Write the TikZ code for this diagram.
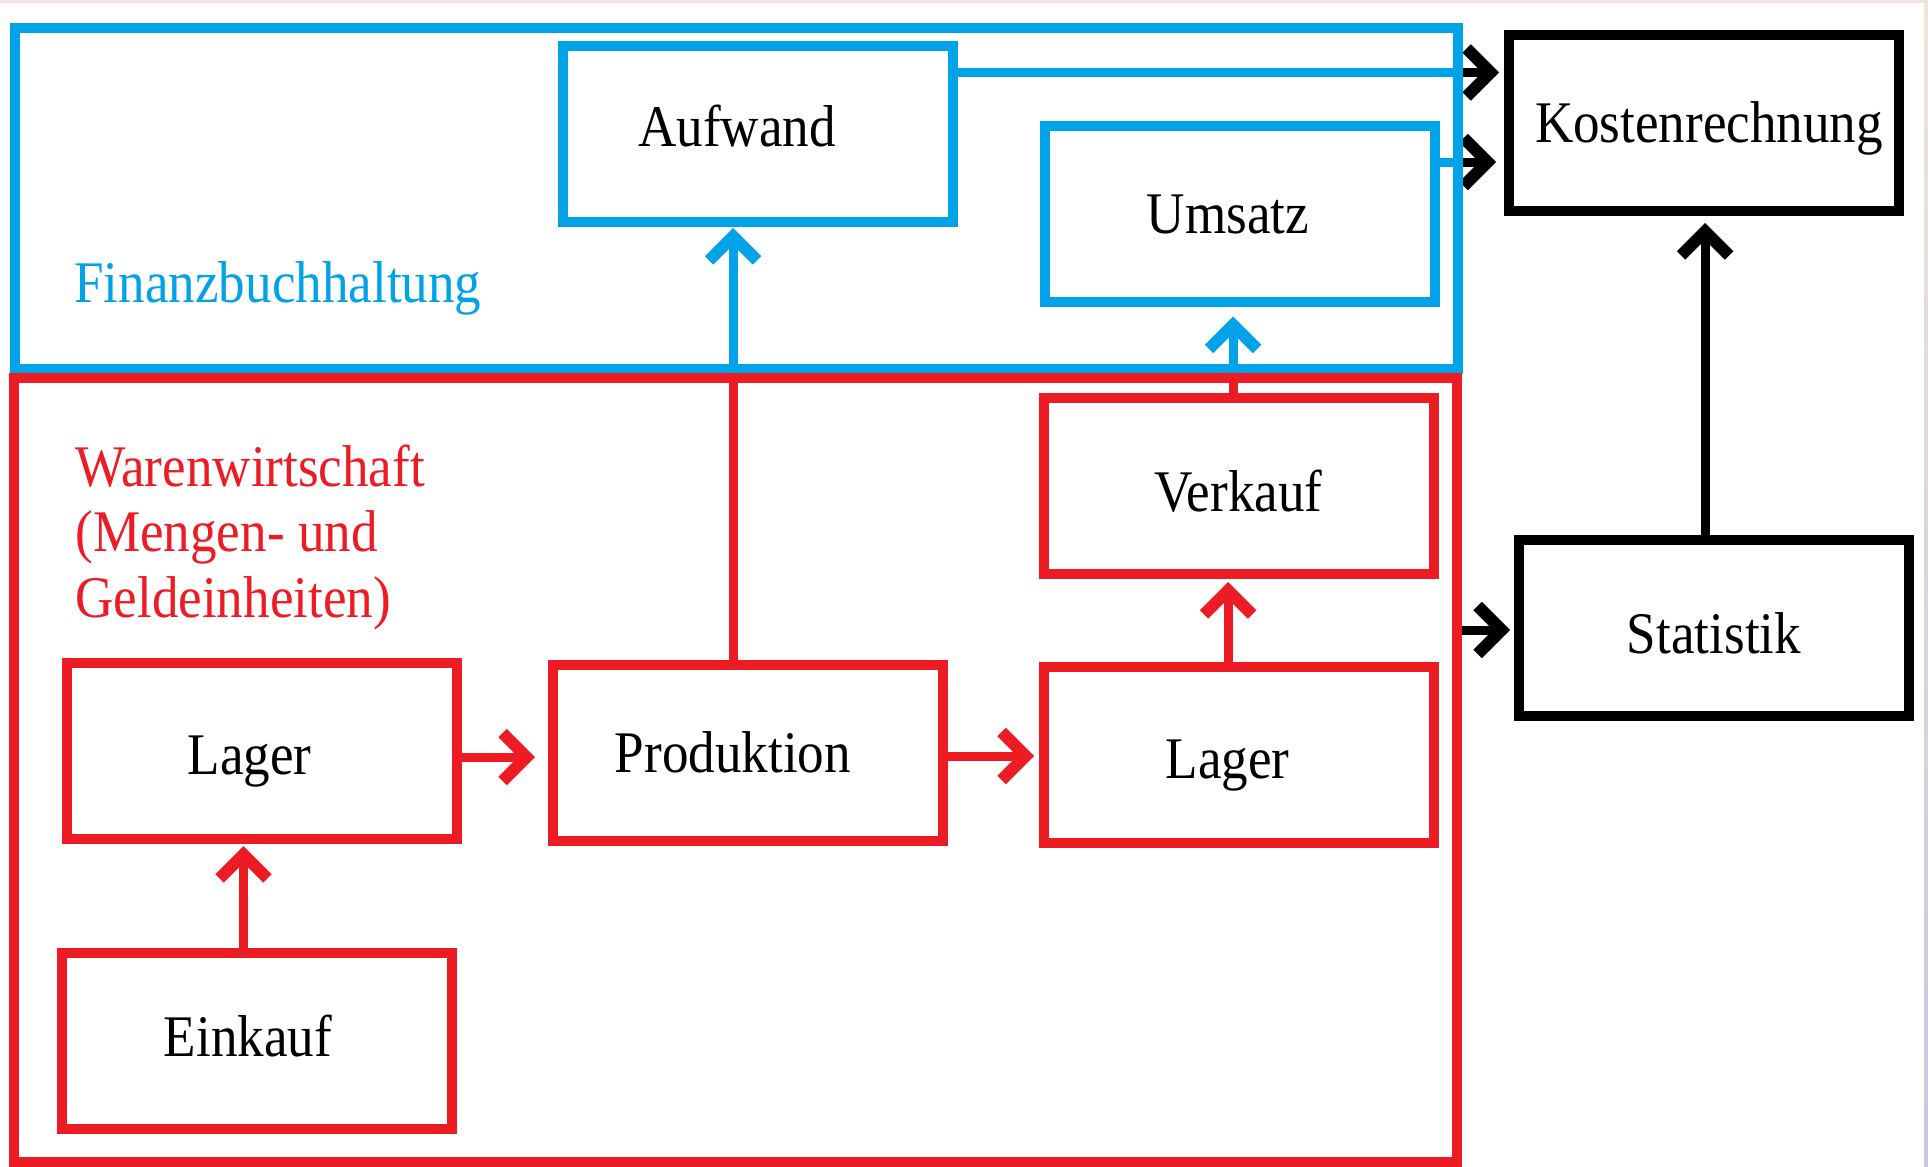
\documentclass[tikz,border=0pt]{standalone}
\usepackage{fontspec}
\setmainfont{Liberation Serif}
\newfontfamily\boxfont[FakeStretch=0.9]{Liberation Serif}
\usetikzlibrary{arrows.meta,calc}
\definecolor{fbblue}{RGB}{0,162,232}
\definecolor{wwred}{RGB}{237,28,36}
\definecolor{edgebeige}{RGB}{240,228,220}
\definecolor{edgelilac}{RGB}{198,200,222}
\tikzset{
  labelfont/.style={font=\boxfont\fontsize{29.5}{33}\selectfont},
  unitbox/.style={draw, line width=5pt, minimum width=195pt, minimum height=88pt,
    inner sep=0pt, outer sep=0pt},
  boxtext/.style={inner sep=0pt, labelfont, text=black, text height=19.5pt, text depth=0pt},
  every label/.style={boxtext},
  bluebox/.style={unitbox, draw=fbblue},
  redbox/.style={unitbox, draw=wwred},
  blackbox/.style={unitbox, draw=black},
  area/.style={inner sep=0pt, outer sep=0pt},
  flow/.style={line width=4.5pt},
  head/.style={-{Straight Barb[length=12pt,width=24pt,line width=6pt]}},
  areatitle/.style={anchor=base west, inner sep=0pt, labelfont},
}
\begin{document}
\begin{tikzpicture}[x=0.5pt,y=-0.5pt]
\useasboundingbox (0,0) rectangle (1928,1167);
\fill[white] (0,0) rectangle (1928,1167);
\fill[edgebeige] (0,0) rectangle (1928,3);
\shade[top color=edgebeige, bottom color=edgelilac] (1924,0) rectangle (1928,1167);

% department boxes, each with its caption
\node[bluebox,  label={[xshift=-10.5pt,yshift=3.5pt]center:Aufwand}]   (aufw) at (758,134)      {};
\node[bluebox,  label={[xshift=-6pt]center:Umsatz}]                      (ums)  at (1240,213.5)   {};
\node[blackbox, label={[xshift=2.5pt]center:Kostenrechnung}]             (kost) at (1704,123)     {};
\node[redbox,   label={[yshift=-3pt]center:Verkauf}]                     (verk) at (1238.5,486)   {};
\node[redbox,   label={[xshift=-5.5pt,yshift=-2pt]center:Lager}]         (lagr) at (1238.5,754.5) {};
\node[redbox,   label={[xshift=-7.5pt]center:Produktion}]                (prod) at (748,752.5)    {};
\node[redbox,   label={[xshift=-6pt,yshift=-2pt]center:Lager}]           (lagl) at (261.5,750.5)  {};
\node[redbox,   label={[xshift=-4.5pt,yshift=2pt]center:Einkauf}]        (eink) at (257,1040.5)   {};
\node[blackbox, label={[yshift=-3pt]center:Statistik}]                   (stat) at (1714,627.5)   {};

% extents of the two areas (their frames are stroked after the connectors)
\node[area, minimum width=721.5pt, minimum height=170.5pt] (fibu)  at (736.5,198.5) {};
\node[area, minimum width=721.5pt, minimum height=392pt]   (waren) at (735.5,770)   {};

% connectors
\coordinate (a1) at ($(aufw.east)+(0,-61.5)$);
\draw[flow, fbblue] (a1) -- (a1 -| fibu.east);
\draw[flow, black, head, shorten >=5pt] (a1 -| fibu.east) -- (a1 -| kost.west);

\coordinate (u1) at ($(ums.east)+(0,-51.5)$);
\draw[flow, fbblue] (u1) -- (u1 -| fibu.east);
\draw[flow, black, head, shorten >=6.5pt] (u1 -| fibu.east) -- (u1 -| kost.west);

\coordinate (p1) at ($(prod.north)+(-15,0)$);
\draw[flow, wwred] (p1) -- (p1 |- waren.north);
\draw[flow, fbblue, head, shorten >=3pt] (p1 |- fibu.south) -- (p1 |- aufw.south);

\coordinate (v1) at ($(verk.north)+(-5.5,0)$);
\draw[flow, wwred] (v1) -- (v1 |- waren.north);
\draw[flow, fbblue, head, shorten >=7.5pt] (v1 |- fibu.south) -- (v1 |- ums.south);

\coordinate (l1) at ($(lagr.north)+(-10.5,0)$);
\draw[flow, wwred, head, shorten >=4pt] (l1) -- (l1 |- verk.south);

\coordinate (p2) at ($(prod.east)+(0,3.5)$);
\draw[flow, wwred, head, shorten >=4.75pt] (p2) -- (p2 -| lagr.west);

\coordinate (l2) at ($(lagl.east)+(0,6.5)$);
\draw[flow, wwred, head, shorten >=9pt] (l2) -- (l2 -| prod.west);

\coordinate (e1) at ($(eink.north)+(-13.5,0)$);
\draw[flow, wwred, head, shorten >=3.75pt] (e1) -- (e1 |- lagl.south);

\coordinate (w1) at ($(stat.west)+(0,2.5)$);
\draw[flow, black, head, shorten >=4.5pt] (w1 -| waren.east) -- (w1);

\coordinate (s1) at ($(stat.north)+(-9,0)$);
\draw[flow, black, head, shorten >=6pt] (s1) -- (s1 |- kost.south);

% area frames on top of the connector ends
\draw[line width=5pt, fbblue] (fibu.north west) rectangle (fibu.south east);
\draw[line width=5pt, wwred] (waren.north west) rectangle (waren.south east);

% area titles
\node[areatitle, text=fbblue] (fibu-title) at (74,302) {Finanzbuchhaltung};
\node[areatitle, text=wwred] (waren-title) at (75,486)
  {\vtop{\baselineskip=32.75pt \hbox{Warenwirtschaft}\hbox{(Mengen- und}\hbox{Geldeinheiten)}}};
\end{tikzpicture}
\end{document}
